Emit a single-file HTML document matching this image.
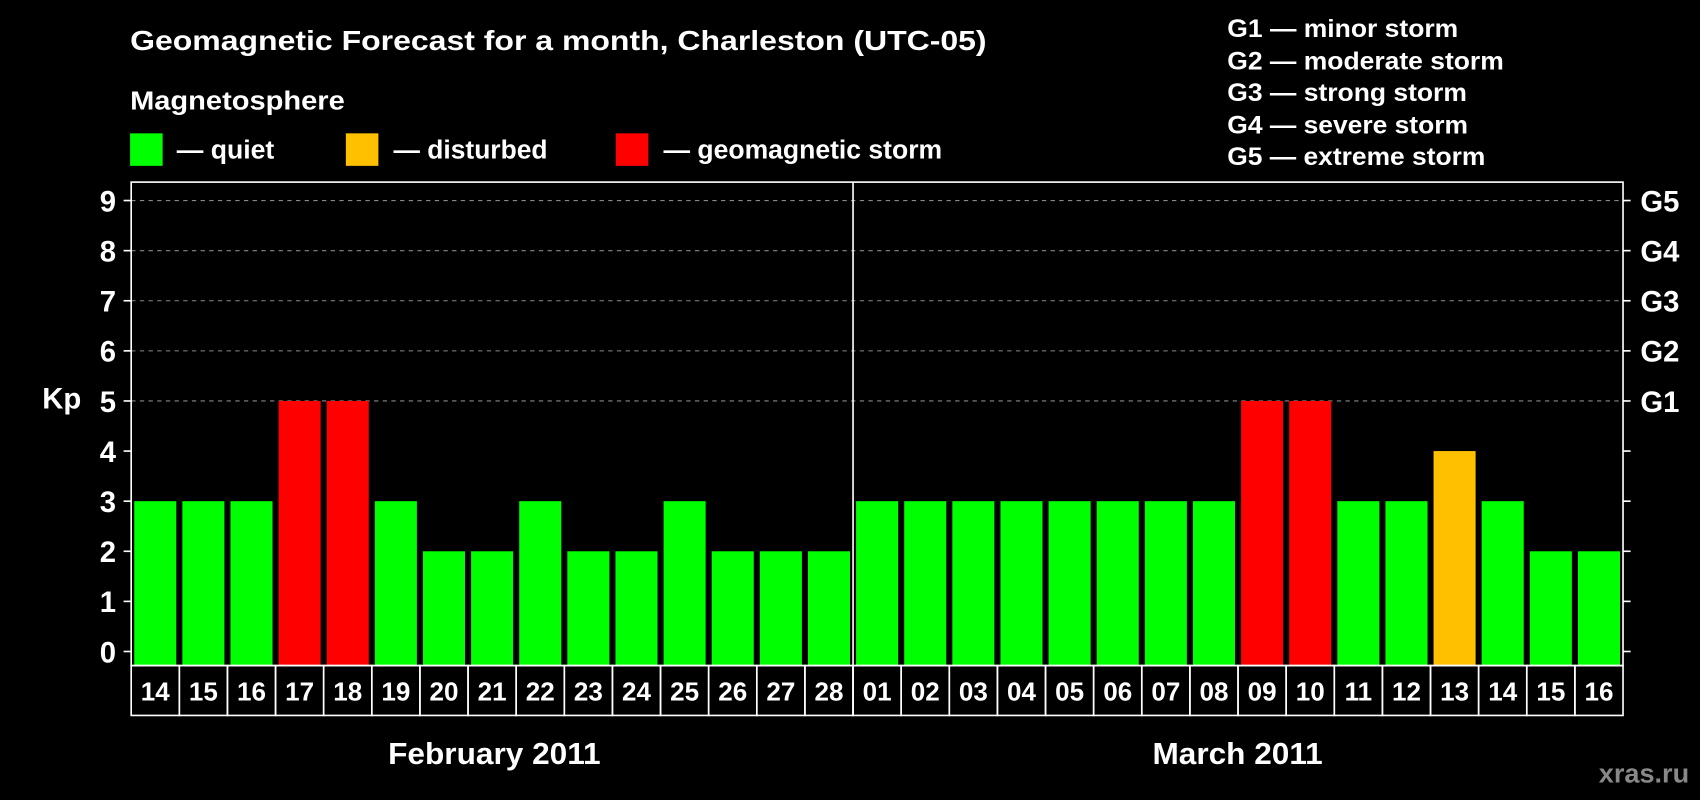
<!DOCTYPE html>
<html><head><meta charset="utf-8"><style>
html,body{margin:0;padding:0;background:#000;}
svg{display:block;}
text{font-family:"Liberation Sans",sans-serif;font-weight:bold;fill:#fff;}
</style></head><body>
<svg id="chart" width="1700" height="800" viewBox="0 0 1568 738" preserveAspectRatio="none" xmlns="http://www.w3.org/2000/svg">
<rect width="1568" height="738" fill="#000"/>
<text x="120" y="46" font-size="26" textLength="790" lengthAdjust="spacingAndGlyphs">Geomagnetic Forecast for a month, Charleston (UTC-05)</text>
<text x="120" y="101" font-size="24" textLength="198" lengthAdjust="spacingAndGlyphs">Magnetosphere</text>
<g><rect x="120" y="123" width="30" height="30" fill="#00ff00"/><text x="163" y="146" font-size="24" textLength="90" lengthAdjust="spacingAndGlyphs">— quiet</text></g>
<g><rect x="319" y="123" width="30" height="30" fill="#ffc000"/><text x="363" y="146" font-size="24" textLength="142" lengthAdjust="spacingAndGlyphs">— disturbed</text></g>
<g><rect x="568" y="123" width="30" height="30" fill="#ff0000"/><text x="612" y="146" font-size="24" textLength="257" lengthAdjust="spacingAndGlyphs">— geomagnetic storm</text></g>
<g font-size="23">
<text x="1132" y="34" textLength="213" lengthAdjust="spacingAndGlyphs">G1 — minor storm</text>
<text x="1132" y="64" textLength="255" lengthAdjust="spacingAndGlyphs">G2 — moderate storm</text>
<text x="1132" y="93" textLength="221" lengthAdjust="spacingAndGlyphs">G3 — strong storm</text>
<text x="1132" y="123" textLength="222" lengthAdjust="spacingAndGlyphs">G4 — severe storm</text>
<text x="1132" y="152" textLength="238" lengthAdjust="spacingAndGlyphs">G5 — extreme storm</text>
</g>
<text x="39" y="377" font-size="27">Kp</text>
<g id="grid"></g><g id="bars"></g><g id="axes"></g>
<text x="358" y="705" font-size="28" textLength="196" lengthAdjust="spacingAndGlyphs">February 2011</text>
<text x="1063" y="705" font-size="28" textLength="157" lengthAdjust="spacingAndGlyphs">March 2011</text>
<text x="1558" y="722" font-size="25" text-anchor="end" style="fill:#888">xras.ru</text>
</svg>
<script>
const days = ["14","15","16","17","18","19","20","21","22","23","24","25","26","27","28","01","02","03","04","05","06","07","08","09","10","11","12","13","14","15","16"];
const kp = [3,3,3,5,5,3,2,2,3,2,2,3,2,2,2,3,3,3,3,3,3,3,3,5,5,3,3,4,3,2,2];
const yTicks = [0,1,2,3,4,5,6,7,8,9];
const gLabels = ["G1","G2","G3","G4","G5"];
const gLevels = [5,6,7,8,9];
const monthSplit = 15;

const NS="http://www.w3.org/2000/svg";
const L=121,R=1497,T=168,B=614,LB=660;
const y0=601,unit=(601-185)/9;
const slot=(R-L)/days.length;
const yS=v=>y0-v*unit;
const xS=i=>L+i*slot;
function mk(tag,attrs,parent,txt){const e=document.createElementNS(NS,tag);for(const k in attrs)e.setAttribute(k,attrs[k]);if(txt!==undefined)e.textContent=txt;parent.appendChild(e);return e;}
const grid=document.getElementById('grid'),bars=document.getElementById('bars'),axes=document.getElementById('axes');
function col(v){return v>=5?"#ff0000":(v>=4?"#ffc000":"#00ff00");}
yTicks.forEach(v=>{
  if(v>=5){const g=mk('line',{x1:L,x2:R,y1:yS(v),y2:yS(v),stroke:'#888','stroke-dasharray':'4,4','stroke-width':1},grid);
  
  }
  const t=mk('line',{x1:L-7,x2:L,y1:yS(v),y2:yS(v),stroke:'#fff','stroke-width':1.5},axes);
  
  
  const t2=mk('line',{x1:R,x2:R+7,y1:yS(v),y2:yS(v),stroke:'#fff','stroke-width':1.5},axes);
  
  
  const lb=mk('text',{x:107,y:yS(v)+10,'font-size':27,'text-anchor':'end'},axes,String(v));
  
  
});
gLabels.forEach((g,i)=>{
  const t=mk('text',{x:1513,y:yS(gLevels[i])+10,'font-size':27},axes,g);
  
  
});
kp.forEach((v,i)=>{
  const b=mk('rect',{x:xS(i)+2.8,y:yS(v),width:slot-5.6,height:y0-yS(v)+13,fill:col(v)},bars);
  
  
  const c=mk('rect',{x:xS(i),y:B,width:slot,height:LB-B,fill:'none',stroke:'#fff','stroke-width':1.5},axes);
  
  
  const t=mk('text',{x:xS(i)+slot/2,y:646,'font-size':24,'text-anchor':'middle'},axes,days[i]);
  
  
});
const fr=mk('rect',{x:L,y:T,width:R-L,height:B-T,fill:'none',stroke:'#fff','stroke-width':1.5},axes);


const dv=mk('line',{x1:xS(monthSplit),x2:xS(monthSplit),y1:T,y2:LB,stroke:'#fff','stroke-width':1.5},axes);


</script>
</body></html>
